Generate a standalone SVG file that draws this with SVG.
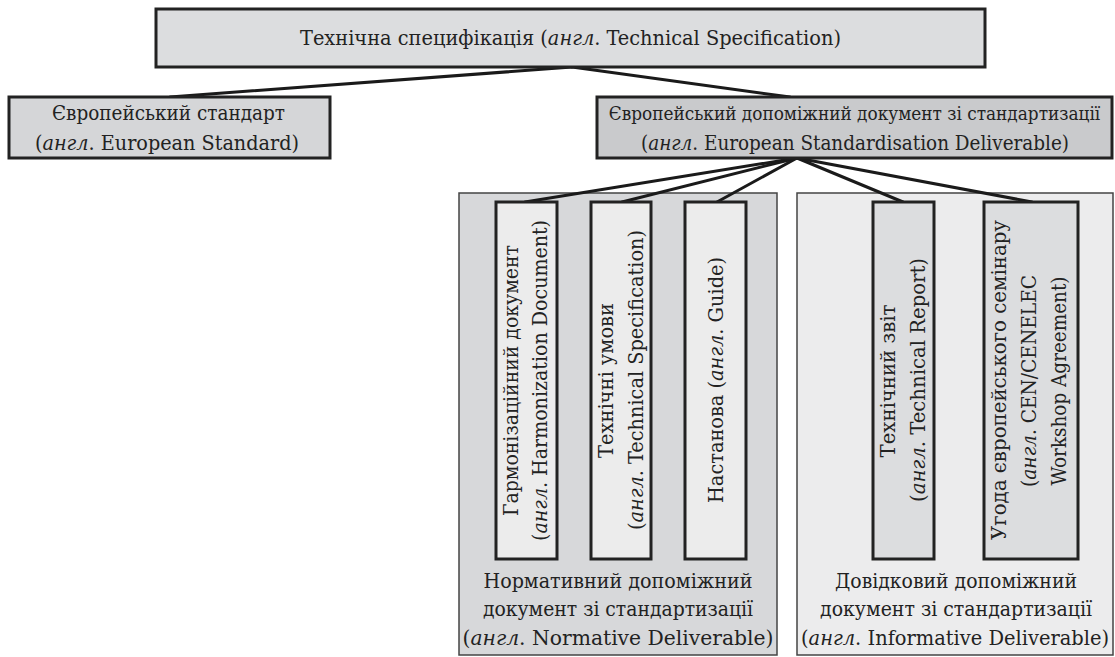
<svg xmlns="http://www.w3.org/2000/svg" width="1115" height="657" viewBox="0 0 1115 657">
<style>
text{font-family:'DejaVu Serif Condensed','DejaVu Serif',serif;font-stretch:condensed;font-size:21px;fill:#222;text-anchor:middle}
.i{font-style:italic}
.box{stroke:#222;stroke-width:3}
.grp{stroke:#444;stroke-width:1.5}
.edge{stroke:#1a1a1a;stroke-width:3;fill:none;stroke-linecap:round}
</style>
<rect width="1115" height="657" fill="#fff"/>
<g id="group-normative">
<rect class="grp" x="459" y="193" width="318" height="462" fill="#d7d8da"/>
<text x="618" y="588" textLength="269" lengthAdjust="spacingAndGlyphs">Нормативний допоміжний</text>
<text x="618" y="616" textLength="270" lengthAdjust="spacingAndGlyphs">документ зі стандартизації</text>
<text x="618" y="645" textLength="311" lengthAdjust="spacingAndGlyphs">(<tspan class="i">англ</tspan>. Normative Deliverable)</text>
</g>
<g id="group-informative">
<rect class="grp" x="797" y="193" width="316" height="462" fill="#ececed"/>
<text x="956" y="588" textLength="242" lengthAdjust="spacingAndGlyphs">Довідковий допоміжний</text>
<text x="956" y="616" textLength="272" lengthAdjust="spacingAndGlyphs">документ зі стандартизації</text>
<text x="955" y="645" textLength="308" lengthAdjust="spacingAndGlyphs">(<tspan class="i">англ</tspan>. Informative Deliverable)</text>
</g>
<g id="connectors">
<line class="edge" x1="572" y1="67" x2="170" y2="97"/>
<line class="edge" x1="572" y1="67" x2="790" y2="97"/>
<line class="edge" x1="797" y1="158" x2="525" y2="202"/>
<line class="edge" x1="797" y1="158" x2="622" y2="202"/>
<line class="edge" x1="797" y1="158" x2="717" y2="202"/>
<line class="edge" x1="797" y1="158" x2="903" y2="202"/>
<line class="edge" x1="797" y1="158" x2="1032" y2="202"/>
</g>
<g id="tech-spec">
<rect class="box" x="156" y="9" width="829" height="58" fill="#dcdddf"/>
<text x="570.5" y="45" textLength="541" lengthAdjust="spacingAndGlyphs">Технічна специфікація (<tspan class="i">англ</tspan>. Technical Specification)</text>
</g>
<g id="euro-standard">
<rect class="box" x="9" y="97" width="321" height="61" fill="#d5d6d8"/>
<text x="168.5" y="120" textLength="233" lengthAdjust="spacingAndGlyphs">Європейський стандарт</text>
<text x="167" y="150" textLength="264" lengthAdjust="spacingAndGlyphs">(<tspan class="i">англ</tspan>. European Standard)</text>
</g>
<g id="esd">
<rect class="box" x="597" y="97" width="515" height="61" fill="#c9cacc"/>
<text x="854.5" y="120" style="font-size:18.8px">Європейський допоміжний документ зі стандартизації</text>
<text x="855" y="150" textLength="428" lengthAdjust="spacingAndGlyphs">(<tspan class="i">англ</tspan>. European Standardisation Deliverable)</text>
</g>
<g id="harmonization">
<rect class="box" x="496" y="202" width="61" height="357" fill="#ececec"/>
<text transform="translate(518,380.5) rotate(-90)" textLength="271" lengthAdjust="spacingAndGlyphs">Гармонізаційний документ</text>
<text transform="translate(547,380.5) rotate(-90)" textLength="321" lengthAdjust="spacingAndGlyphs">(<tspan class="i">англ</tspan>. Harmonization Document)</text>
</g>
<g id="tech-conditions">
<rect class="box" x="591" y="202" width="60" height="357" fill="#ececec"/>
<text transform="translate(613,380.5) rotate(-90)" textLength="155" lengthAdjust="spacingAndGlyphs">Технічні умови</text>
<text transform="translate(643,380) rotate(-90)" textLength="300" lengthAdjust="spacingAndGlyphs">(<tspan class="i">англ</tspan>. Technical Specification)</text>
</g>
<g id="guide">
<rect class="box" x="685" y="202" width="61" height="357" fill="#ececec"/>
<text transform="translate(723,380) rotate(-90)" textLength="246" lengthAdjust="spacingAndGlyphs">Настанова (<tspan class="i">англ</tspan>. Guide)</text>
</g>
<g id="tech-report">
<rect class="box" x="873" y="202" width="61" height="357" fill="#dcdddf"/>
<text transform="translate(895,381) rotate(-90)" textLength="153" lengthAdjust="spacingAndGlyphs">Технічний звіт</text>
<text transform="translate(925,380) rotate(-90)" textLength="244" lengthAdjust="spacingAndGlyphs">(<tspan class="i">англ</tspan>. Technical Report)</text>
</g>
<g id="workshop">
<rect class="box" x="984" y="202" width="94" height="357" fill="#dcdddf"/>
<text transform="translate(1006,380) rotate(-90)" textLength="320" lengthAdjust="spacingAndGlyphs">Угода європейського семінару</text>
<text transform="translate(1036,381) rotate(-90)" textLength="212" lengthAdjust="spacingAndGlyphs">(<tspan class="i">англ</tspan>. CEN/CENELEC</text>
<text transform="translate(1066,381) rotate(-90)" textLength="209" lengthAdjust="spacingAndGlyphs">Workshop Agreement)</text>
</g>
</svg>
